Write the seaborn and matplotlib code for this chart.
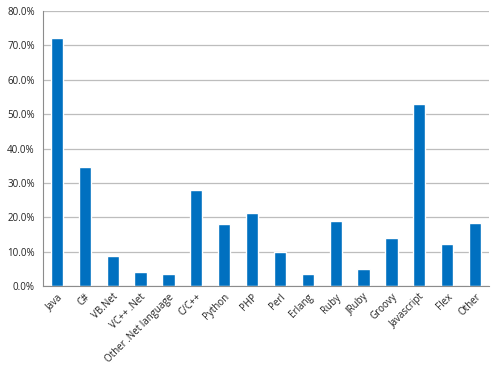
import matplotlib
matplotlib.use("Agg")
import matplotlib.pyplot as plt
import matplotlib.ticker as mticker
import seaborn as sns
import pandas as pd
import numpy as np

languages = ["Java", "C#", "VB.Net", "VC++ .Net", "Other .Net language", "C/C++",
             "Python", "PHP", "Perl", "Erlang", "Ruby", "JRuby", "Groovy",
             "Javascript", "Flex", "Other"]
share = [72.2, 34.7, 8.7, 4.1, 3.5, 27.8, 18.1, 21.3, 9.8, 3.5, 18.8, 4.9, 14.0,
         53.1, 12.3, 18.3]

df = pd.DataFrame({"language": languages, "share": share})

sns.set_style("white")
plt.rcParams['font.family'] = ['Open Sans', 'DejaVu Sans']

fig = plt.figure(figsize=(5, 3.7), dpi=100)
ax = fig.add_axes([0.086, 0.227, 0.892, 0.743])

sns.barplot(data=df, x="language", y="share", color="#0070C0", width=0.44,
            saturation=1, ax=ax)

ax.set_ylim(0, 80)
ax.set_xlim(-0.5, len(languages) - 0.5)
ax.yaxis.set_major_locator(mticker.MultipleLocator(10))
ax.yaxis.set_major_formatter(mticker.FuncFormatter(lambda v, p: f"{v:.1f}%"))
ax.grid(axis="y", color="#bdbdbd", linewidth=0.9)
ax.set_axisbelow(True)

for s in ["top", "right"]:
    ax.spines[s].set_visible(False)
ax.spines["left"].set_color("#8c8c8c")
ax.spines["bottom"].set_color("#8c8c8c")

# tick marks between categories
ax.set_xticks(np.arange(-0.5, len(languages)), minor=True)
ax.tick_params(axis="x", which="minor", length=4, color="#8c8c8c", direction="out")
ax.tick_params(axis="x", which="major", length=0, pad=4)
ax.tick_params(axis="y", length=4, color="#8c8c8c", direction="out", pad=2)
ax.tick_params(labelsize=7, labelcolor="#222222")
ax.set_xticks(range(len(languages)))
ax.set_xticklabels(languages, rotation=45, ha="right", rotation_mode="anchor")

ax.set_xlabel("")
ax.set_ylabel("")

fig.savefig("out.png", dpi=100)
